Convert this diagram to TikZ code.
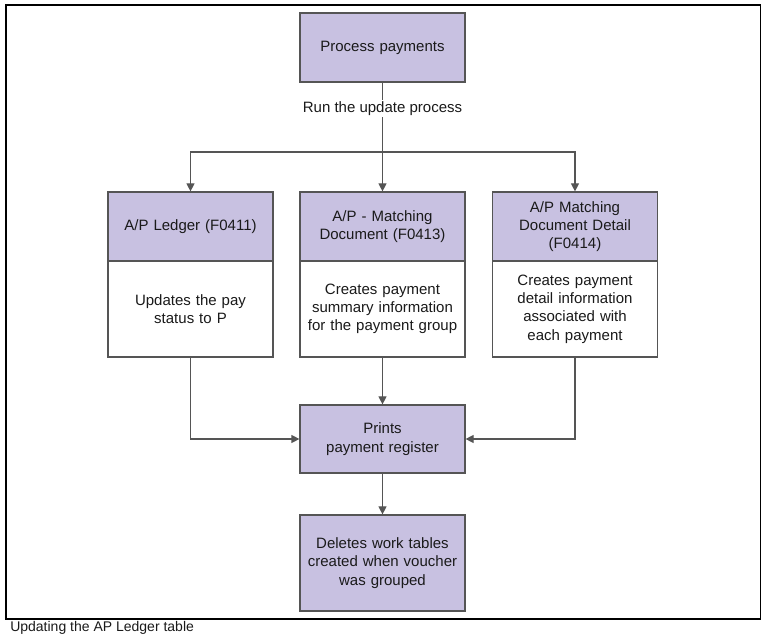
\documentclass[tikz,border=0pt]{standalone}
\usepackage{fontspec}
\setmainfont{Liberation Sans}
\usetikzlibrary{arrows.meta}
\definecolor{lav}{HTML}{C8C1E1}
\definecolor{edge}{HTML}{555555}
\definecolor{txt}{HTML}{1A1A1A}
\begin{document}
\begin{tikzpicture}[x=0.75pt,y=-0.75pt,
  box/.style={draw=edge,line width=0.9pt,minimum width=123.75pt,inner sep=0pt,
    text width=118pt,align=center,text=txt,font=\fontsize{11.25pt}{13.7pt}\selectfont},
  lavbox/.style={box,fill=lav},
  whitebox/.style={box,fill=white},
  conn/.style={draw=edge,line width=0.9pt},
  arr/.style={conn,-{Triangle[width=6pt,length=6pt]}}]
\useasboundingbox (0,0) rectangle (769,638);
\draw[black,line width=1pt] (6,5) rectangle (760.5,619);
% top
\node[lavbox,minimum height=51.75pt] (pp) at (382.5,47.5) {Process payments};
\coordinate (j) at (382.5,152);
\coordinate (jl) at (190.5,152);
\coordinate (jr) at (575,152);
% headers
\node[lavbox,minimum height=51.75pt] (h1) at (190.5,226.5) {A/P Ledger (F0411)};
\node[lavbox,minimum height=51.75pt] (h2) at (382.5,226.5) {A/P - Matching\\Document (F0413)};
\node[lavbox,minimum height=51.75pt] (h3) at (575,226.5) {A/P Matching\\Document Detail\\(F0414)};
% bodies
\node[whitebox,minimum height=72pt] (b1) at (190.5,309) {Updates the pay\\status to P};
\node[whitebox,minimum height=72pt] (b2) at (382.5,309) {Creates payment\\summary information\\for the payment group};
\node[whitebox,minimum height=72pt] (b3) at (575,309) {Creates payment\\detail information\\associated with\\each payment};
% lower
\node[lavbox,minimum height=51pt] (pr) at (382.5,439) {Prints\\payment register};
\node[lavbox,minimum height=72pt] (dl) at (382.5,563) {Deletes work tables\\created when voucher\\was grouped};
% connectors
\draw[conn] (pp.south) -- (j);
\node[fill=white,inner sep=1.5pt,text=txt,font=\fontsize{11.25pt}{13.7pt}\selectfont] (lbl) at (382.5,108.5) {Run the update process};
\draw[conn,line cap=rect] (jl) -- (jr);
\draw[arr] (jl) -- (h1.north);
\draw[arr] (j) -- (h2.north);
\draw[arr] (jr) -- (h3.north);
\draw[arr] (b1.south) |- (pr.west);
\draw[arr] (b2.south) -- (pr.north);
\draw[arr] (b3.south) |- (pr.east);
\draw[arr] (pr.south) -- (dl.north);
% caption
\node[anchor=west,inner sep=0pt,text=txt,font=\fontsize{10.5pt}{12pt}\selectfont] (cap) at (10,628) {Updating the AP Ledger table};
\end{tikzpicture}
\end{document}
